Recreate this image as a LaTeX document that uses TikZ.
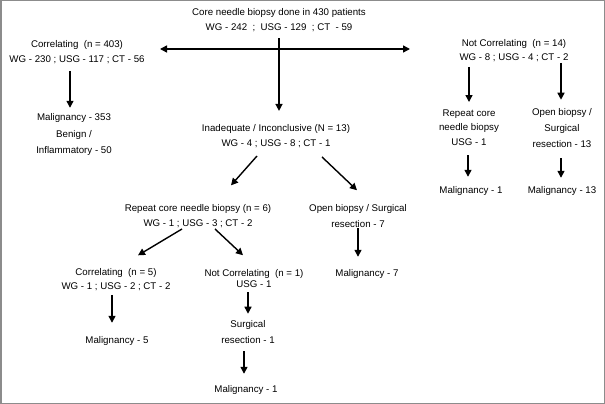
\documentclass[tikz,border=0pt]{standalone}
\usepackage{fontspec}
\setmainfont{Liberation Sans}
\usetikzlibrary{arrows.meta}
\begin{document}
\begin{tikzpicture}[x=1pt,y=-1pt,
  txt/.style={inner sep=0pt, align=center, font=\fontsize{9.7}{15}\selectfont},
  arr/.style={line width=1.4pt, -{Triangle[length=7pt,width=7pt]}},
  dbl/.style={line width=1.5pt, {Triangle[length=7pt,width=7pt]}-{Triangle[length=7pt,width=7pt]}}]
\useasboundingbox (0,0) rectangle (605,404);
\draw[black!45, line width=1.5pt] (0.75,0.75) rectangle (604.25,403.25);

\node[txt] (top) at (279,20.2) {Core needle biopsy done in 430 patients\\WG - 242 \ ; \ USG - 129 \ ; CT \ - 59};
\node[txt] (corr403) at (77,52.15) {Correlating\ \ (n = 403)\\WG - 230 ; USG - 117 ; CT - 56};
\node[txt, font=\fontsize{9.7}{16.5}\selectfont] (mal353) at (74,134.5) {Malignancy - 353\\Benign /\\Inflammatory - 50};
\node[txt] (inad) at (276,136.15) {Inadequate / Inconclusive (N = 13)\\WG - 4 ; USG - 8 ; CT - 1};
\node[txt, font=\fontsize{9.7}{14}\selectfont] (notcorr14) at (514,50.65) {Not Correlating\ \ (n = 14)\\WG - 8 ; USG - 4 ; CT - 2};
\node[txt, font=\fontsize{9.7}{14.5}\selectfont] (rep14) at (469,127.6) {Repeat core\\needle biopsy\\USG - 1};
\node[txt, font=\fontsize{9.7}{16}\selectfont] (open14) at (562,128) {Open biopsy /\\Surgical\\resection - 13};
\node[txt] (mal1r) at (471,191) {Malignancy - 1};
\node[txt] (mal13) at (562,191) {Malignancy - 13};
\node[txt] (rep6) at (198,216.15) {Repeat core needle biopsy (n = 6)\\WG - 1 ; USG - 3 ; CT - 2};
\node[txt, font=\fontsize{9.7}{16}\selectfont] (open7) at (358,216) {Open biopsy / Surgical\\resection - 7};
\node[txt] (mal7) at (367,274) {Malignancy - 7};
\node[txt, font=\fontsize{9.7}{14}\selectfont] (corr5) at (116,279.65) {Correlating\ \ (n = 5)\\WG - 1 ; USG - 2 ; CT - 2};
\node[txt] (mal5) at (117,341) {Malignancy - 5};
\node[txt, font=\fontsize{9.7}{11.5}\selectfont] (notcorr1) at (254,278.75) {Not Correlating\ \ (n = 1)\\USG - 1};
\node[txt, font=\fontsize{9.7}{16}\selectfont] (surg1) at (248,332) {Surgical\\resection - 1};
\node[txt] (mal1b) at (246,390) {Malignancy - 1};

\coordinate (hL) at (160,49);
\coordinate (hR) at (410,49);
\draw[dbl] (hL) -- (hR);

\draw[arr] ([shift={(0pt,-6pt)}]top.south) -- ([shift={(3pt,13.4pt)}]inad.north);
\draw[arr] ([shift={(-7pt,-7pt)}]corr403.south) -- ([shift={(-4pt,5.5pt)}]mal353.north);
\draw[arr] ([shift={(-45pt,-5pt)}]notcorr14.south) -- ([shift={(0pt,7.5pt)}]rep14.north);
\draw[arr] ([shift={(47pt,-1pt)}]notcorr14.south) -- ([shift={(-1pt,8.5pt)}]open14.north);
\draw[arr] ([shift={(-1pt,-9.5pt)}]rep14.south) -- ([shift={(-3pt,9.5pt)}]mal1r.north);
\draw[arr] ([shift={(-1pt,-10.5pt)}]open14.south) -- ([shift={(-1pt,8.5pt)}]mal13.north);
\draw[arr] ([shift={(-19pt,-8pt)}]inad.south) -- ([shift={(33pt,19pt)}]rep6.north);
\draw[arr] ([shift={(46pt,-9pt)}]inad.south) -- ([shift={(-1pt,14pt)}]open7.north);
\draw[arr] ([shift={(-16pt,-1pt)}]rep6.south) -- ([shift={(22pt,13pt)}]corr5.north);
\draw[arr] ([shift={(17pt,-1pt)}]rep6.south) -- ([shift={(-11pt,14pt)}]notcorr1.north);
\draw[arr] ([shift={(0pt,-0.5pt)}]open7.south) -- ([shift={(-9pt,12.5pt)}]mal7.north);
\draw[arr] ([shift={(-4pt,-4pt)}]corr5.south) -- ([shift={(-5pt,13.5pt)}]mal5.north);
\draw[arr] ([shift={(-6pt,-4pt)}]notcorr1.south) -- ([shift={(0pt,6.5pt)}]surg1.north);
\draw[arr] ([shift={(-4pt,-7.5pt)}]surg1.south) -- ([shift={(-2pt,11.5pt)}]mal1b.north);
\end{tikzpicture}
\end{document}
